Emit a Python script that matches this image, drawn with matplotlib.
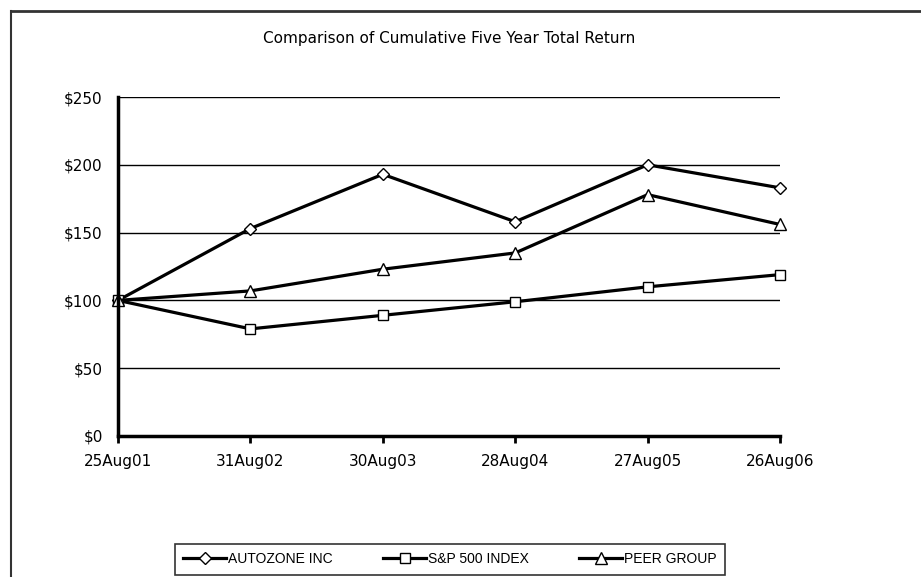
import matplotlib
matplotlib.use("Agg")
import matplotlib.pyplot as plt
from matplotlib.lines import Line2D

dates = ["25Aug01", "31Aug02", "30Aug03", "28Aug04", "27Aug05", "26Aug06"]
autozone = [100, 153, 193, 158, 200, 183]
sp500 = [100, 79, 89, 99, 110, 119]
peer = [100, 107, 123, 135, 178, 156]
yticks = [0, 50, 100, 150, 200, 250]
ytick_labels = ["$0", "$50", "$100", "$150", "$200", "$250"]

plt.rcParams['font.family'] = ['DejaVu Sans']

W, H = 921, 577
fig = plt.figure(figsize=(W / 100, H / 100), dpi=100)
fig.patch.set_facecolor("white")

ax = fig.add_axes([118 / W, 1 - 436 / H, (780 - 118) / W, (436 - 97) / H])
x = list(range(len(dates)))

style = dict(color="black", lw=2.3, markerfacecolor="white", markeredgecolor="black",
             markeredgewidth=1.0, zorder=3, clip_on=False)
ax.plot(x, autozone, marker="D", markersize=6.5, label="AUTOZONE INC", **style)
ax.plot(x, sp500, marker="s", markersize=7.5, label="S&P 500 INDEX", **style)
ax.plot(x, peer, marker="^", markersize=8.5, label="PEER GROUP", **style)

ax.set_xlim(0, len(dates) - 1)
ax.set_ylim(0, 250)
ax.set_yticks(yticks)
ax.set_yticklabels(ytick_labels)
ax.set_xticks(x)
ax.set_xticklabels(dates)
for yv in yticks[1:]:
    ax.axhline(yv, color="black", lw=1.0, zorder=1)

for s in ["top", "right"]:
    ax.spines[s].set_visible(False)
ax.spines["left"].set_linewidth(2.5)
ax.spines["bottom"].set_linewidth(2.5)
ax.spines["left"].set_zorder(4)
ax.spines["bottom"].set_zorder(4)
ax.tick_params(axis="y", length=0, pad=11, labelsize=11)
ax.tick_params(axis="x", length=5, width=2, direction="out", pad=8, labelsize=11)

fig.text(449 / W, 1 - 38 / H, "Comparison of Cumulative Five Year Total Return",
         ha="center", va="center", fontsize=11)

leg = fig.legend(loc="upper center", bbox_to_anchor=(450 / W, 1 - 544 / H), ncol=3,
                 frameon=True, fancybox=False, edgecolor="black",
                 prop={"family": "Liberation Sans", "size": 10},
                 handlelength=3.1, handletextpad=0.15, columnspacing=3.6,
                 borderpad=0.6, borderaxespad=0)
leg.get_frame().set_linewidth(1.2)

fig.add_artist(Line2D([11 / W, 1], [1 - 11 / H, 1 - 11 / H], transform=fig.transFigure,
                      color="#333333", lw=2))
fig.add_artist(Line2D([11 / W, 11 / W], [0, 1 - 11 / H], transform=fig.transFigure,
                      color="#333333", lw=1.5))

fig.savefig("out.png", dpi=100)
